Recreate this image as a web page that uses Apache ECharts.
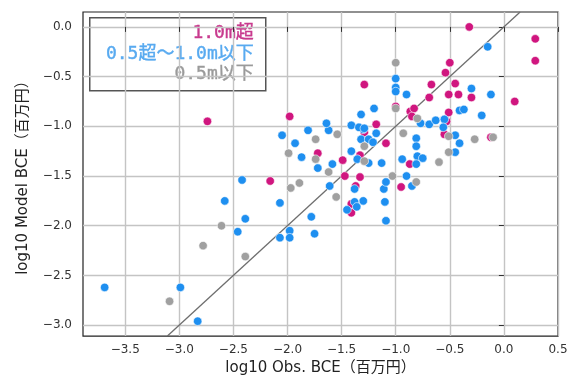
<!DOCTYPE html>
<html>
<head>
<meta charset="utf-8">
<script src="https://cdn.jsdelivr.net/npm/echarts@6/dist/echarts.min.js"></script>
<style>
html,body{margin:0;padding:0;background:#fff;}
#chart{width:571px;height:381px;}
</style>
</head>
<body>
<div id="chart"></div>
<script>
// Category labels
const categories = ['1.0m超', '0.5超〜1.0m以下', '0.5m以下'];

// 1.0m超 : [log10 Obs, log10 Model]
const over10 = [
  [-2.74,-0.95],[-1.98,-0.90],[-2.16,-1.55],[-1.72,-1.27],[-1.49,-1.34],[-1.47,-1.50],
  [-1.33,-1.51],[-1.37,-1.60],[-1.41,-1.78],[-1.41,-1.87],[-1.33,-1.29],[-1.29,-1.06],
  [-1.09,-1.17],[-1.18,-0.98],[-1.29,-0.58],[-1.00,-0.80],[-0.865,-0.85],[-0.83,-0.82],
  [-0.85,-0.90],[-0.87,-1.38],[-0.95,-1.61],[-0.32,0.00],[0.29,-0.12],[0.29,-0.34],
  [0.10,-0.75],[-0.50,-0.36],[-0.54,-0.46],[-0.45,-0.57],[-0.67,-0.58],[-0.69,-0.71],
  [-0.51,-0.68],[-0.42,-0.68],[-0.30,-0.71],[-0.51,-0.86],[-0.53,-0.95],[-0.55,-1.08],
  [-0.12,-1.11]
];

// 0.5超〜1.0m以下
const mid05to10 = [
  [-3.69,-2.62],[-2.99,-2.62],[-2.83,-2.96],[-2.46,-2.06],[-2.39,-1.93],[-2.58,-1.75],
  [-2.42,-1.54],[-2.07,-1.77],[-2.07,-2.12],[-1.98,-2.05],[-1.98,-2.12],[-1.78,-1.91],
  [-1.75,-2.08],[-1.61,-1.60],[-1.72,-1.42],[-2.05,-1.09],[-1.93,-1.17],[-1.87,-1.31],
  [-1.81,-1.04],[-1.62,-1.04],[-1.64,-0.97],[-1.585,-1.38],[-1.38,-1.63],[-1.30,-1.75],
  [-1.38,-1.76],[-1.36,-1.81],[-1.45,-1.84],[-1.10,-1.76],[-1.09,-1.95],[-1.11,-1.63],
  [-1.09,-1.56],[-0.90,-1.50],[-0.85,-1.60],[-1.13,-1.37],[-1.25,-1.37],[-1.355,-1.33],
  [-1.41,-1.25],[-1.32,-1.13],[-1.25,-1.13],[-1.21,-1.16],[-1.18,-1.07],[-1.30,-1.03],
  [-0.94,-1.33],[-1.00,-0.52],[-1.00,-0.61],[-1.00,-0.65],[-0.90,-0.68],[-1.20,-0.82],
  [-1.32,-0.88],[-1.41,-0.99],[-1.34,-1.01],[-1.29,-1.02],[-0.15,-0.20],[-0.30,-0.62],
  [-0.12,-0.68],[-0.205,-0.89],[-0.41,-0.84],[-0.37,-0.83],[-0.77,-0.97],[-0.69,-0.98],
  [-0.63,-0.94],[-0.55,-0.93],[-0.56,-1.01],[-0.45,-1.09],[-0.41,-1.17],[-0.45,-1.26],
  [-0.81,-1.12],[-0.81,-1.20],[-0.80,-1.30],[-0.75,-1.32],[-0.81,-1.38]
];

// 0.5m以下
const under05 = [
  [-3.09,-2.76],[-2.78,-2.20],[-2.61,-2.00],[-2.39,-2.31],[-1.97,-1.62],[-1.89,-1.57],
  [-1.62,-1.46],[-1.99,-1.27],[-1.74,-1.13],[-1.54,-1.08],[-1.74,-1.33],[-1.55,-1.71],
  [-1.29,-1.35],[-1.29,-1.20],[-1.03,-1.50],[-0.81,-1.56],[-1.00,-0.36],[-1.00,-0.82],
  [-0.93,-1.07],[-0.80,-0.92],[-0.51,-1.10],[-0.27,-1.13],[-0.10,-1.11],[-0.51,-1.26],
  [-0.60,-1.36]
];

// Axis extents and tick labels
const xRange = [-3.89, 0.5];
const yRange = [-3.11, 0.15];
const xTicks = [-3.5, -3.0, -2.5, -2.0, -1.5, -1.0, -0.5, 0.0, 0.5];
const yTicks = [-3.0, -2.5, -2.0, -1.5, -1.0, -0.5, 0.0];

const colors = ['#d0167f', '#1e8ff0', '#a0a0a0'];
const legendColors = ['#c83a8e', '#58aaf0', '#9a9a9a'];

const fmt = v => (Math.abs(v) < 1e-9 ? '0.0' : v.toFixed(1).replace('-', '\u2212'));
const FONT = '"DejaVu Sans", "Noto Sans CJK JP", sans-serif';

// identity line y = x spanning the visible range
const lo = Math.max(xRange[0], yRange[0]);
const hi = Math.min(xRange[1], yRange[1]);
const identity = [[lo, lo], [hi, hi]];

const chart = echarts.init(document.getElementById('chart'), null, {renderer: 'canvas'});

function scatter(name, data, color) {
  return {
    name, type: 'scatter', data, symbolSize: 8.5,
    itemStyle: {color, borderColor: '#ffffff', borderWidth: 0.6, opacity: 1},
    emphasis: {disabled: true}, z: 3
  };
}

const LEGEND_FONT = '18px "DejaVu Sans Mono", "Noto Sans CJK JP"';

chart.setOption({
  animation: false,
  backgroundColor: '#ffffff',
  grid: {left: 83, top: 12, width: 475, height: 327, show: true, borderColor: '#222', borderWidth: 1.2, backgroundColor: 'transparent'},
  xAxis: {
    type: 'value', min: xRange[0], max: xRange[1],
    name: 'log10 Obs. BCE（百万円）', nameLocation: 'middle', nameGap: 24,
    nameTextStyle: {fontFamily: FONT, fontSize: 15, color: '#222'},
    axisLine: {show: false},
    axisTick: {show: true, customValues: xTicks, length: 5, lineStyle: {color: '#333'}},
    axisLabel: {customValues: xTicks, formatter: fmt, fontFamily: FONT, fontSize: 12, color: '#333', margin: 8},
    splitLine: {show: true, lineStyle: {color: '#c4c4c4', width: 1.4}}
  },
  yAxis: {
    type: 'value', min: yRange[0], max: yRange[1],
    name: 'log10 Model BCE（百万円）', nameLocation: 'middle', nameGap: 52, nameRotate: 90,
    nameTextStyle: {fontFamily: FONT, fontSize: 15, color: '#222'},
    axisLine: {show: false},
    axisTick: {show: true, customValues: yTicks, length: 5, lineStyle: {color: '#333'}},
    axisLabel: {customValues: yTicks, formatter: fmt, fontFamily: FONT, fontSize: 12, color: '#333', margin: 11},
    splitLine: {show: true, lineStyle: {color: '#c4c4c4', width: 1.4}}
  },
  series: [
    {
      type: 'line', data: identity, symbol: 'none', silent: true,
      lineStyle: {color: '#6e6e6e', width: 1.3}, z: 2
    },
    scatter(categories[0], over10, colors[0]),
    scatter(categories[1], mid05to10, colors[1]),
    scatter(categories[2], under05, colors[2])
  ],
  graphic: [{
    type: 'group', left: 89, top: 17, z: 100,
    children: [
      {type: 'rect', shape: {x: 0, y: 0, width: 176, height: 73}, style: {fill: '#fff', stroke: '#555', lineWidth: 1.5}},
      {type: 'text', x: 164, y: 16, style: {text: categories[0], fill: legendColors[0], font: LEGEND_FONT, align: 'right', verticalAlign: 'middle', stroke: legendColors[0], lineWidth: 0.4}},
      {type: 'text', x: 164, y: 36.5, style: {text: categories[1], fill: legendColors[1], font: LEGEND_FONT, align: 'right', verticalAlign: 'middle', stroke: legendColors[1], lineWidth: 0.4}},
      {type: 'text', x: 164, y: 57, style: {text: categories[2], fill: legendColors[2], font: LEGEND_FONT, align: 'right', verticalAlign: 'middle', stroke: legendColors[2], lineWidth: 0.4}}
    ]
  }]
});
</script>
</body>
</html>
